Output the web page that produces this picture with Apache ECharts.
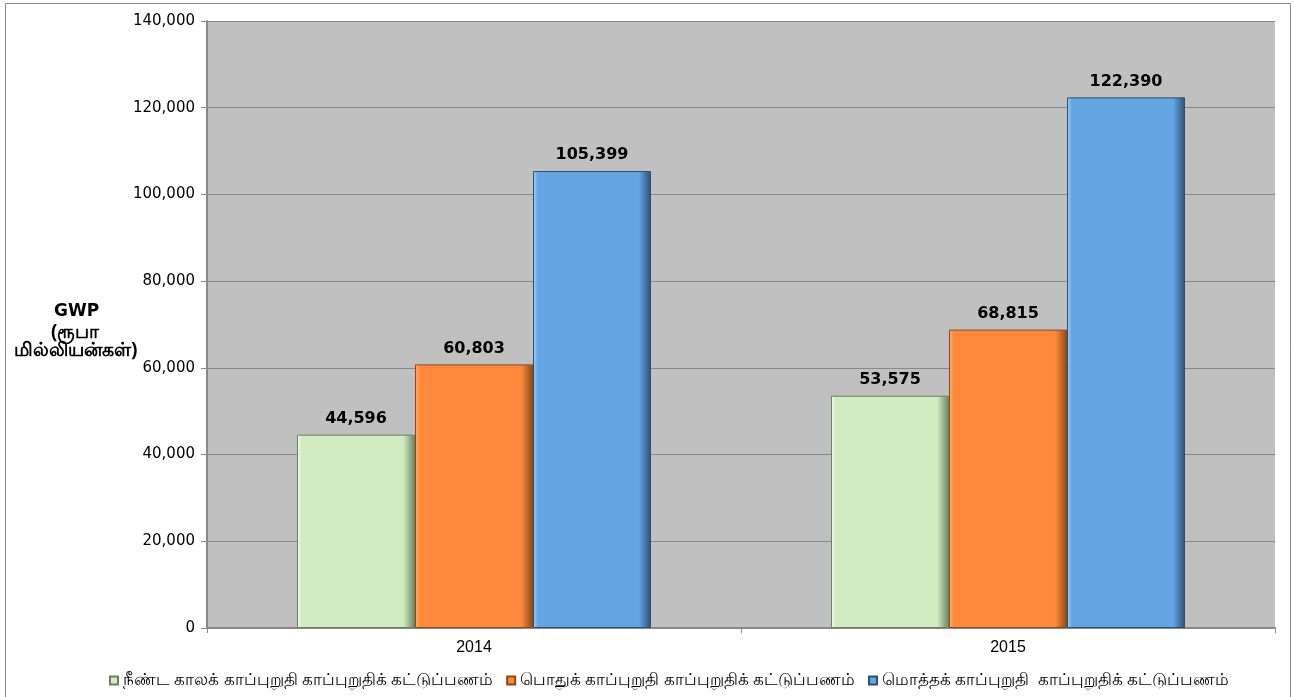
<!DOCTYPE html>
<html><head><meta charset="utf-8">
<script src="https://cdn.jsdelivr.net/npm/echarts@6/dist/echarts.min.js"></script>
<style>html,body{margin:0;padding:0;background:#fff}#c{width:1295px;height:697px}</style>
</head><body><div id="c"></div>
<script>
const categories = ['2014', '2015'];
const seriesNames = [
  'நீண்ட காலக் காப்புறுதி காப்புறுதிக் கட்டுப்பணம்',
  'பொதுக் காப்புறுதி காப்புறுதிக் கட்டுப்பணம்',
  'மொத்தக் காப்புறுதி  காப்புறுதிக் கட்டுப்பணம்'
];
const longTerm = [44596, 53575];
const general = [60803, 68815];
const total = [105399, 122390];
const colors = ['#d2ebc0', '#fd8a3c', '#64a5e3'];
const lights = ['#f4fff0', '#ffb37a', '#a6d4ff'];
const borders = ['#6f8062', '#8a4a1c', '#2e5070'];

const chart = echarts.init(document.getElementById('c'));
const fmt = v => v.toLocaleString('en-US');
const mk = (name, data, i) => ({
  name, type: 'bar', data, barWidth: 118, barGap: '0%',
  itemStyle: {
    color: {type:'linear', x:0, y:0, x2:1, y2:0, colorStops:[
      {offset:0, color: lights[i]}, {offset:0.04, color: colors[i]}, {offset:0.9, color: colors[i]}, {offset:1, color: borders[i]}]},
    borderColor: borders[i], borderWidth: 1
  },
  label: {show: true, position: 'top', distance: 8, formatter: p => fmt(p.value),
    fontFamily: 'DejaVu Sans', fontWeight: 'bold', fontSize: 16, color: '#000'}
});
chart.setOption({
  animation: false,
  grid: {left: 207, right: 20, top: 21, bottom: 69, show: true, backgroundColor: '#c0c0c0', borderWidth: 0},
  legend: {bottom: 3, left: 104, itemWidth: 8, itemHeight: 8, itemGap: 13, itemTextGap: 3, icon: 'rect',
    textStyle: {fontSize: 16.5, color: '#000', fontFamily: 'Noto Sans, DejaVu Sans'},
    data: seriesNames},
  xAxis: {type: 'category', data: categories,
    axisLine: {lineStyle: {color: '#888', width: 2}},
    axisTick: {show: true, length: 5, lineStyle: {color: '#888'}},
    axisLabel: {fontSize: 16, color: '#000', fontFamily: 'Liberation Sans', margin: 12}},
  yAxis: {type: 'value', min: 0, max: 140000, interval: 20000,
    axisLine: {show: true, lineStyle: {color: '#888', width: 2}},
    axisTick: {show: true, length: 6, lineStyle: {color: '#888'}},
    splitLine: {lineStyle: {color: '#888', width: 1}},
    axisLabel: {fontSize: 15, color: '#000', fontFamily: 'DejaVu Sans', margin: 12, formatter: v => fmt(v)}},
  graphic: [
    {type: 'rect', left: 3, top: 1, shape: {width: 1285, height: 700}, style: {fill: 'none', stroke: '#888', lineWidth: 1}, z: -1},
    {type: 'text', left: 54, top: 303, style: {text: 'GWP', font: 'bold 17px DejaVu Sans', fill: '#000'}},
    {type: 'text', left: 51, top: 323, style: {text: '(ரூபா', font: 'bold 19px Noto Sans, DejaVu Sans', fill: '#000'}},
    {type: 'text', left: 14, top: 341, style: {text: 'மில்லியன்கள்)', font: 'bold 19px Noto Sans, DejaVu Sans', fill: '#000'}}
  ],
  series: [mk(seriesNames[0], longTerm, 0), mk(seriesNames[1], general, 1), mk(seriesNames[2], total, 2)]
});
</script></body></html>
